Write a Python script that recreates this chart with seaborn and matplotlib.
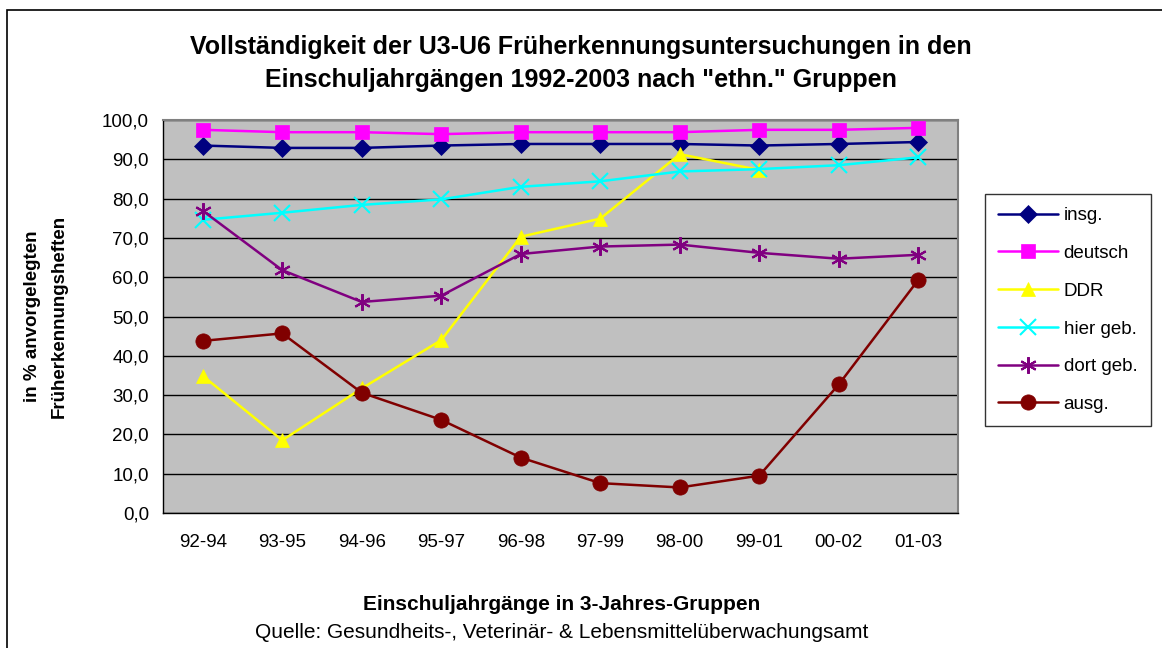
import numpy as np
import pandas as pd
import matplotlib
matplotlib.use("Agg")
import matplotlib.pyplot as plt
from matplotlib.lines import Line2D
from matplotlib.patches import Rectangle
from matplotlib.ticker import FuncFormatter, FixedLocator
import seaborn as sns

# Einschuljahrgänge (3-Jahres-Gruppen)
categories = ["92-94", "93-95", "94-96", "95-97", "96-98", "97-99", "98-00", "99-01", "00-02", "01-03"]

insg = [93.5, 92.9, 92.9, 93.5, 93.9, 93.9, 93.9, 93.5, 93.9, 94.4]
deutsch = [97.5, 96.9, 96.9, 96.4, 96.9, 96.9, 96.9, 97.5, 97.5, 98.0]
ddr = [34.9, 18.5, 31.7, 44.0, 70.3, 74.9, 91.3, 87.3, np.nan, np.nan]
hier_geb = [74.6, 76.4, 78.4, 79.8, 83.0, 84.4, 86.9, 87.5, 88.5, 90.5]
dort_geb = [76.9, 61.8, 53.7, 55.3, 65.9, 67.8, 68.3, 66.2, 64.7, 65.7]
ausg = [43.8, 45.7, 30.6, 23.7, 14.1, 7.6, 6.5, 9.5, 32.7, 59.3]

series_names = ["insg.", "deutsch", "DDR", "hier geb.", "dort geb.", "ausg."]
series_values = [insg, deutsch, ddr, hier_geb, dort_geb, ausg]
colors = ["#000080", "#FF00FF", "#FFFF00", "#00FFFF", "#800080", "#800000"]
markers = ["D", "s", "^", "x", (6, 2, 0), "o"]
msizes = [9, 10, 10, 11, 12, 11]

df = pd.DataFrame({"pos": np.arange(len(categories))})
for name, vals in zip(series_names, series_values):
    df[name] = vals

sns.set_style("white")
plt.rcParams["font.family"] = ["Liberation Sans", "DejaVu Sans"]
for key in ("text.color", "axes.labelcolor", "xtick.color", "ytick.color"):
    plt.rcParams[key] = "black"

fig = plt.figure(figsize=(11.62, 6.48), dpi=100)
ax = fig.add_axes([163 / 1162, 1 - 513 / 648, 795 / 1162, 393 / 648])
ax.set_facecolor("#C0C0C0")

handles = []
for name, col, mk, ms in zip(series_names, colors, markers, msizes):
    mew = 1.5 if mk in ("x", (6, 2, 0)) else 0.5
    sns.lineplot(data=df, x="pos", y=name, ax=ax, color=col, marker=mk,
                 markersize=ms, markeredgecolor=col, markeredgewidth=mew,
                 linewidth=1.8, legend=False, zorder=3)
    handles.append(Line2D([], [], color=col, marker=mk, markersize=ms,
                          markeredgecolor=col, linewidth=1.8, markeredgewidth=mew))

ax.set_xlim(-0.5, len(categories) - 0.5)
ax.set_ylim(0, 100)
ax.yaxis.set_major_locator(FixedLocator(np.arange(0, 101, 10)))
ax.yaxis.set_major_formatter(FuncFormatter(lambda v, p: f"{v:.1f}".replace(".", ",")))
ax.yaxis.grid(True, color="black", linewidth=1)
ax.set_axisbelow(True)

ax.set_xticks(np.arange(len(categories)))
ax.set_xticklabels(categories)
ax.set_xticks(np.arange(-0.5, len(categories), 1), minor=True)
ax.tick_params(axis="x", which="major", length=0, pad=15, labelsize=13.5)
ax.tick_params(axis="x", which="minor", length=6, width=1, direction="out", color="black")
ax.tick_params(axis="y", which="major", length=6, width=1, direction="out", color="black",
               labelsize=13.5, pad=4)
ax.set_xlabel("")
ax.set_ylabel("")

for side in ("top", "right"):
    ax.spines[side].set_color("#808080")
    ax.spines[side].set_linewidth(1.5)
for side in ("left", "bottom"):
    ax.spines[side].set_color("black")
    ax.spines[side].set_linewidth(1)

leg = fig.legend(handles, series_names, loc="upper left",
                 bbox_to_anchor=(985 / 1162, 1 - 194 / 648), fontsize=13.5,
                 frameon=True, fancybox=False, edgecolor="black",
                 handlelength=3.2, labelspacing=1.1, borderpad=0.7,
                 handletextpad=0.3, borderaxespad=0)
leg.get_frame().set_linewidth(1)

fig.text(0.5, 1 - 47 / 648, "Vollständigkeit der U3-U6 Früherkennungsuntersuchungen in den",
         ha="center", va="center", fontsize=18, fontweight="bold")
fig.text(0.5, 1 - 80 / 648, 'Einschuljahrgängen 1992-2003 nach "ethn." Gruppen',
         ha="center", va="center", fontsize=18, fontweight="bold")

fig.text(46 / 1162, 1 - 316 / 648, "in % anvorgelegten\nFrüherkennungsheften",
         rotation=90, ha="center", va="center", fontsize=13.5, fontweight="bold",
         multialignment="center", linespacing=1.75)

fig.text(562 / 1162, 1 - 604 / 648, "Einschuljahrgänge in 3-Jahres-Gruppen",
         ha="center", va="center", fontsize=15, fontweight="bold")
fig.text(562 / 1162, 1 - 633 / 648, "Quelle: Gesundheits-, Veterinär- & Lebensmittelüberwachungsamt",
         ha="center", va="center", fontsize=15)

fig.patches.append(Rectangle((7 / 1162, -0.01), 1.1, 1 - 10 / 648 + 0.01,
                             transform=fig.transFigure, fill=False,
                             edgecolor="black", linewidth=1.2))

fig.savefig("out.png", dpi=100)
